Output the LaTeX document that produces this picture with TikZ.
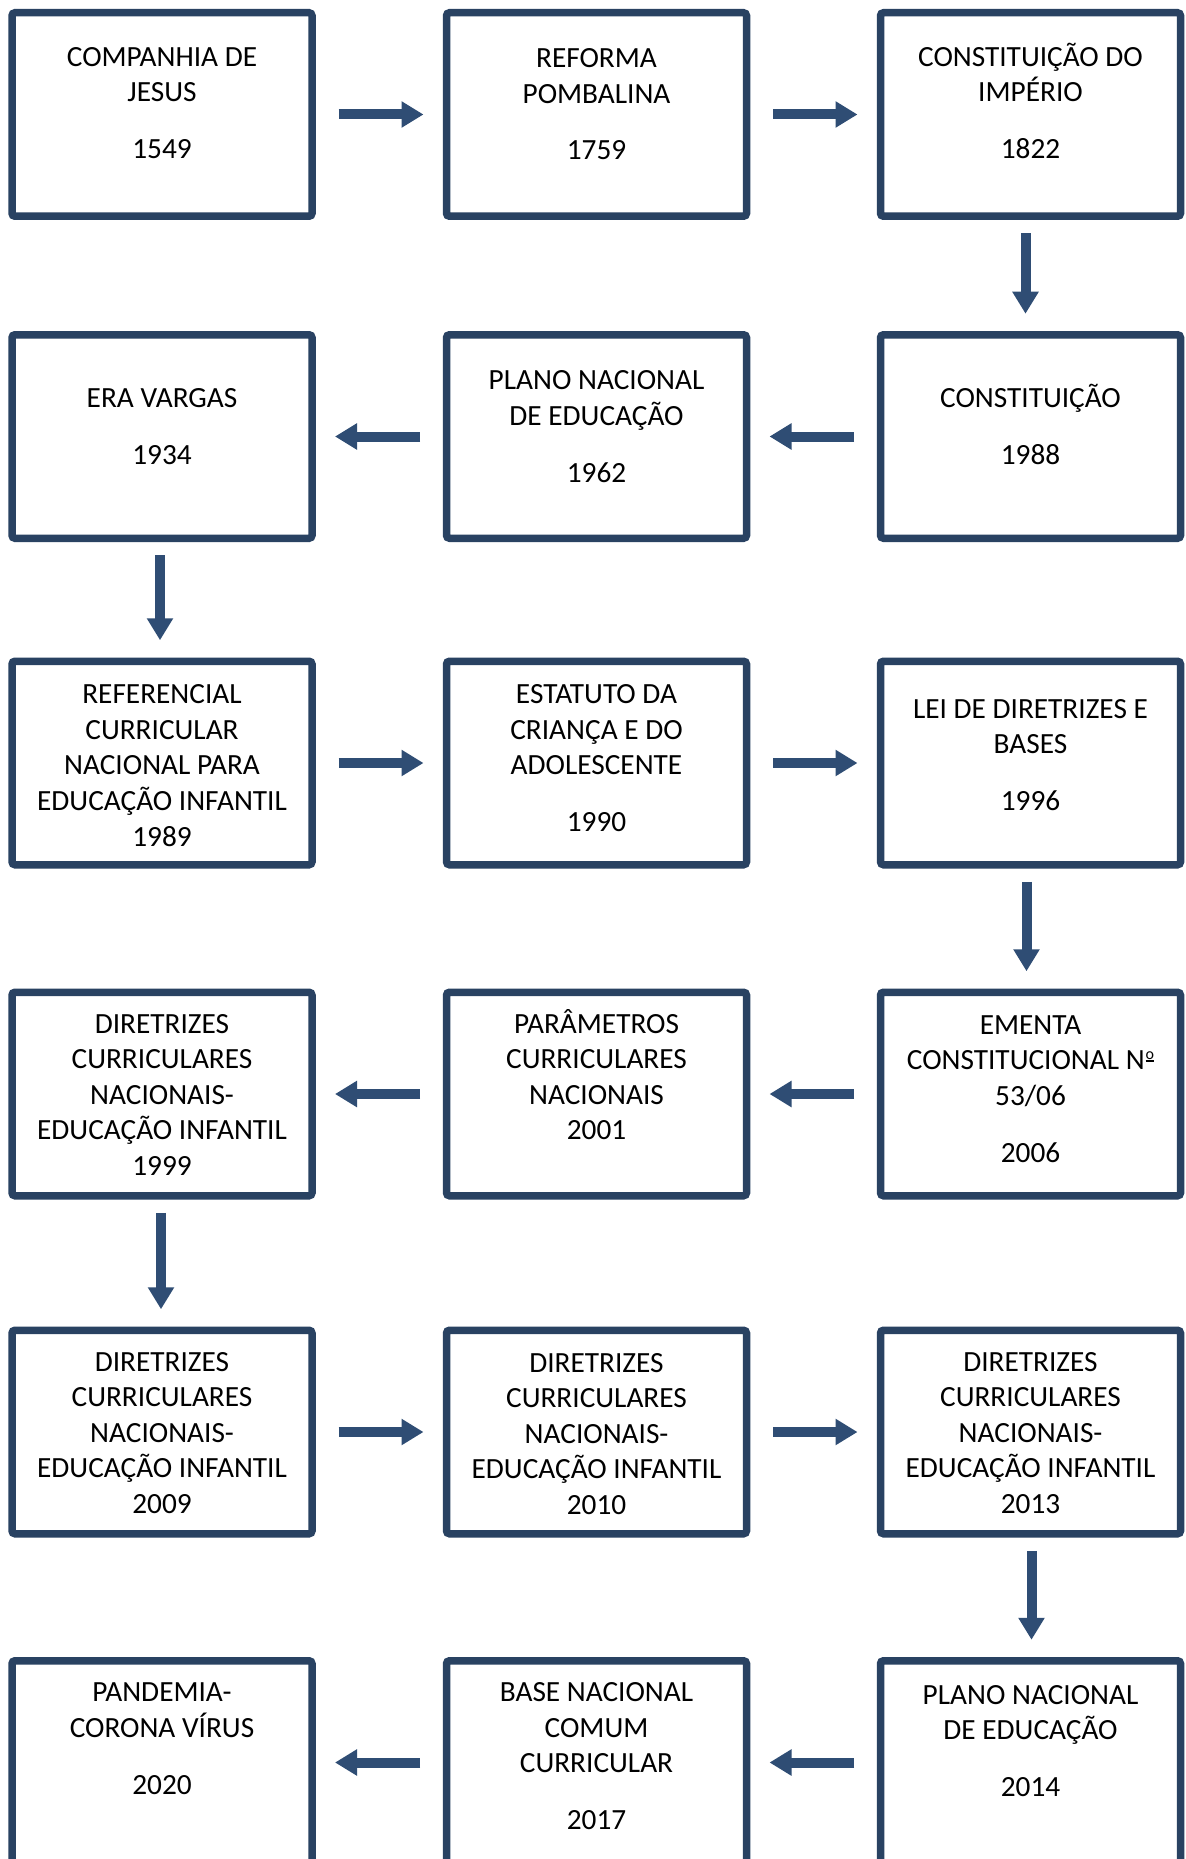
\documentclass[tikz,border=0pt]{standalone}
\usepackage{fontspec}
\setmainfont{Carlito}
\usetikzlibrary{arrows.meta}
\definecolor{boxblue}{HTML}{294262}
\definecolor{arrblue}{HTML}{2F4D74}
\newcommand{\topstrut}{\rule{0pt}{25pt}}
\newcommand{\ordo}{\kern1pt\raisebox{10.5pt}{\fontsize{16pt}{16pt}\selectfont o}\kern-8.4pt\raisebox{8pt}{\rule{8.4pt}{1.6pt}}}
\tikzset{
  evbox/.style={draw=boxblue, line width=7.5pt, rectangle, rounded corners=3pt,
    minimum width=300pt, minimum height=203.5pt, inner sep=0pt, outer sep=0pt, fill=white},
  evtext/.style={anchor=north, align=center, inner sep=0pt, outer sep=0pt,
    font=\fontsize{29.3pt}{35.55pt}\selectfont, text=black},
  blockarr/.style={draw=arrblue, line width=10pt, line cap=butt,
    -{Triangle[width=25pt,length=22pt]}, shorten <=26.5pt, shorten >=23pt},
  vblockarr/.style={blockarr, shorten <=17pt, shorten >=21pt}
}
\begin{document}
\begin{tikzpicture}[x=1pt,y=-1pt]
\clip (0,0) rectangle (1185,1859);
\fill[white] (0,0) rectangle (1185,1859);
% boxes
\node[evbox] (b1) at (162,114.5) {};
\node[evbox] (b2) at (596.5,114.5) {};
\node[evbox] (b3) at (1030.5,114.5) {};
\node[evbox] (b4) at (162,436.5) {};
\node[evbox] (b5) at (596.5,436.5) {};
\node[evbox] (b6) at (1030.5,436.5) {};
\node[evbox] (b7) at (162,763) {};
\node[evbox] (b8) at (596.5,763) {};
\node[evbox] (b9) at (1030.5,763) {};
\node[evbox] (b10) at (162,1094) {};
\node[evbox] (b11) at (596.5,1094) {};
\node[evbox] (b12) at (1030.5,1094) {};
\node[evbox] (b13) at (162,1432) {};
\node[evbox] (b14) at (596.5,1432) {};
\node[evbox] (b15) at (1030.5,1432) {};
\node[evbox] (b16) at (162,1762.5) {};
\node[evbox] (b17) at (596.5,1762.5) {};
\node[evbox] (b18) at (1030.5,1762.5) {};
% texts
\node[evtext] (t1) at (162,41.3) {\topstrut COMPANHIA DE\\JESUS\\[21.3pt]1549};
\node[evtext] (t2) at (596.5,42.5) {\topstrut REFORMA\\POMBALINA\\[21.3pt]1759};
\node[evtext] (t3) at (1030.5,41.3) {\topstrut CONSTITUIÇÃO DO\\IMPÉRIO\\[21.3pt]1822};
\node[evtext] (t4) at (162,382.6) {\topstrut ERA VARGAS\\[21.3pt]1934};
\node[evtext] (t5) at (596.5,364.8) {\topstrut PLANO NACIONAL\\DE EDUCAÇÃO\\[21.3pt]1962};
\node[evtext] (t6) at (1030.5,382.6) {\topstrut CONSTITUIÇÃO\\[21.3pt]1988};
\node[evtext] (t7) at (162,678.8) {\topstrut REFERENCIAL\\CURRICULAR\\NACIONAL PARA\\EDUCAÇÃO INFANTIL\\1989};
\node[evtext] (t8) at (596.5,678.8) {\topstrut ESTATUTO DA\\CRIANÇA E DO\\ADOLESCENTE\\[21.3pt]1990};
\node[evtext] (t9) at (1030.5,693) {\topstrut LEI DE DIRETRIZES E\\BASES\\[21.3pt]1996};
\node[evtext] (t10) at (162,1008.2) {\topstrut DIRETRIZES\\CURRICULARES\\NACIONAIS-\\EDUCAÇÃO INFANTIL\\1999};
\node[evtext] (t11) at (596.5,1008.2) {\topstrut PARÂMETROS\\CURRICULARES\\NACIONAIS\\2001};
\node[evtext] (t12) at (1030.5,1009.4) {\topstrut EMENTA\\CONSTITUCIONAL N\ordo\\53/06\\[21.3pt]2006};
\node[evtext] (t13) at (162,1346) {\topstrut DIRETRIZES\\CURRICULARES\\NACIONAIS-\\EDUCAÇÃO INFANTIL\\2009};
\node[evtext] (t14) at (596.5,1347.2) {\topstrut DIRETRIZES\\CURRICULARES\\NACIONAIS-\\EDUCAÇÃO INFANTIL\\2010};
\node[evtext] (t15) at (1030.5,1346) {\topstrut DIRETRIZES\\CURRICULARES\\NACIONAIS-\\EDUCAÇÃO INFANTIL\\2013};
\node[evtext] (t16) at (162,1676.6) {\topstrut PANDEMIA-\\CORONA VÍRUS\\[21.3pt]2020};
\node[evtext] (t17) at (596.5,1676.6) {\topstrut BASE NACIONAL\\COMUM\\CURRICULAR\\[21.3pt]2017};
\node[evtext] (t18) at (1030.5,1679) {\topstrut PLANO NACIONAL\\DE EDUCAÇÃO\\[21.3pt]2014};
% arrows
\draw[blockarr] (b1) -- (b2);
\draw[blockarr] (b2) -- (b3);
\draw[vblockarr] ([xshift=-5pt]b3.south) -- ([xshift=-5pt]b6.north);
\draw[blockarr] (b6) -- (b5);
\draw[blockarr] (b5) -- (b4);
\draw[vblockarr] ([xshift=-2pt]b4.south) -- ([xshift=-2pt]b7.north);
\draw[blockarr] (b7) -- (b8);
\draw[blockarr] (b8) -- (b9);
\draw[vblockarr] ([xshift=-4pt]b9.south) -- ([xshift=-4pt]b12.north);
\draw[blockarr] (b12) -- (b11);
\draw[blockarr] (b11) -- (b10);
\draw[vblockarr] ([xshift=-1pt]b10.south) -- ([xshift=-1pt]b13.north);
\draw[blockarr] (b13) -- (b14);
\draw[blockarr] (b14) -- (b15);
\draw[vblockarr] ([xshift=1pt]b15.south) -- ([xshift=1pt]b18.north);
\draw[blockarr] (b18) -- (b17);
\draw[blockarr] (b17) -- (b16);
\end{tikzpicture}
\end{document}
